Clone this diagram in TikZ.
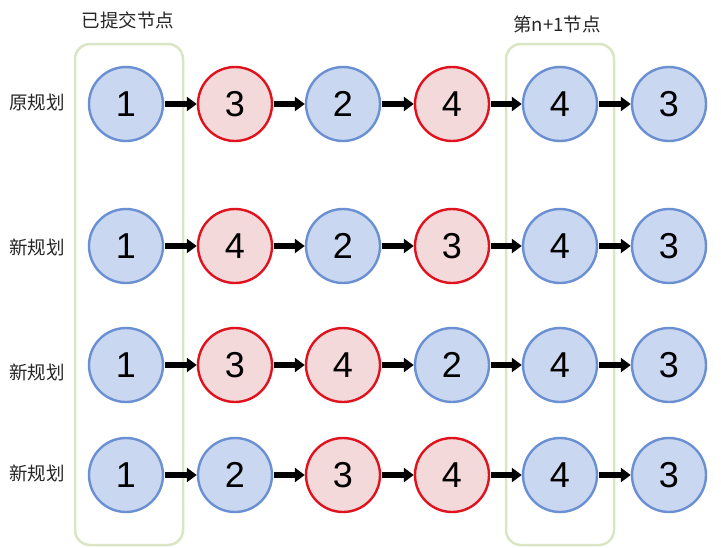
\documentclass[tikz,border=0pt]{standalone}
\usepackage{fontspec}
\setmainfont{Liberation Sans}
\newfontfamily\cjk{Noto Sans CJK SC}
\usetikzlibrary{arrows.meta}
\definecolor{bfill}{HTML}{C9D7F0}
\definecolor{bdraw}{HTML}{6A8FD3}
\definecolor{rfill}{HTML}{F3D9D9}
\definecolor{rdraw}{HTML}{E0121E}
\definecolor{gbox}{HTML}{D9E5C3}
\begin{document}
\begin{tikzpicture}[x=1pt,y=-1pt,
  bnode/.style={circle,draw=bdraw,fill=bfill,line width=2.4pt,minimum size=74pt,inner sep=0pt,font=\fontsize{36}{36}\selectfont},
  rnode/.style={circle,draw=rdraw,fill=rfill,line width=2.4pt,minimum size=74pt,inner sep=0pt,font=\fontsize{36}{36}\selectfont},
  conn/.style={-{Triangle[length=10pt,width=14pt]},line width=5.5pt,shorten <=1pt},
  grp/.style={draw=gbox,line width=2.5pt,rounded corners=15pt},
  lbl/.style={font=\cjk\fontsize{18.5}{18.5}\selectfont,text=black!85}]
\useasboundingbox (0,0) rectangle (721,547);
\draw[grp] (75,44) rectangle (183,545);
\draw[grp] (506,44) rectangle (614,545);
\node[lbl] (t1) at (128,20) {已提交节点};
\node[lbl] (t2) at (557,24) {第n+1节点};
\node[lbl] (l1) at (37,102) {原规划};
\node[lbl] (l2) at (37,247) {新规划};
\node[lbl] (l3) at (37,372) {新规划};
\node[lbl] (l4) at (37,473) {新规划};
% row 1
\node[bnode] (a1) at (126,104) {1};
\node[rnode] (a2) at (235,104) {3};
\node[bnode] (a3) at (343,104) {2};
\node[rnode] (a4) at (452,104) {4};
\node[bnode] (a5) at (560,104) {4};
\node[bnode] (a6) at (669,104) {3};
% row 2
\node[bnode] (b1) at (126,246) {1};
\node[rnode] (b2) at (235,246) {4};
\node[bnode] (b3) at (343,246) {2};
\node[rnode] (b4) at (452,246) {3};
\node[bnode] (b5) at (560,246) {4};
\node[bnode] (b6) at (669,246) {3};
% row 3
\node[bnode] (c1) at (126,365) {1};
\node[rnode] (c2) at (235,365) {3};
\node[rnode] (c3) at (343,365) {4};
\node[bnode] (c4) at (452,365) {2};
\node[bnode] (c5) at (560,365) {4};
\node[bnode] (c6) at (669,365) {3};
% row 4
\node[bnode] (d1) at (126,475) {1};
\node[bnode] (d2) at (235,475) {2};
\node[rnode] (d3) at (343,475) {3};
\node[rnode] (d4) at (452,475) {4};
\node[bnode] (d5) at (560,475) {4};
\node[bnode] (d6) at (669,475) {3};
\foreach \r in {a,b,c,d}{
  \draw[conn] (\r1) -- (\r2);
  \draw[conn] (\r2) -- (\r3);
  \draw[conn] (\r3) -- (\r4);
  \draw[conn] (\r4) -- (\r5);
  \draw[conn] (\r5) -- (\r6);
}
\end{tikzpicture}
\end{document}
